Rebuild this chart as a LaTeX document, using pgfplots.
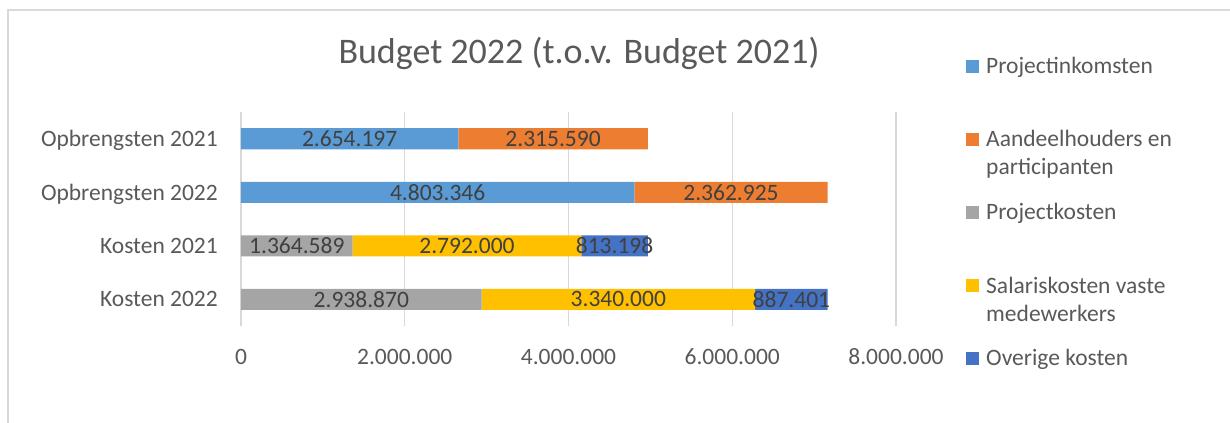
\documentclass[border=0pt]{standalone}
\usepackage{pgfplots}
\pgfplotsset{compat=1.18}
\usepackage{fontspec}
\setmainfont{Carlito}

\definecolor{cProjInk}{HTML}{5B9BD5}
\definecolor{cAandeel}{HTML}{ED7D31}
\definecolor{cProjKost}{HTML}{A5A5A5}
\definecolor{cSalaris}{HTML}{FFC000}
\definecolor{cOverig}{HTML}{4472C4}
\definecolor{txtgray}{HTML}{595959}
\definecolor{lblgray}{HTML}{404040}
\definecolor{gridgray}{HTML}{D9D9D9}

\newcommand{\smallfont}{\fontsize{23.5bp}{28bp}\selectfont}

\begin{document}
\begin{tikzpicture}
  % page size follows the reference (1 px = 1 bp, origin at axis lower left)
  \path[use as bounding box] (-241bp,-97bp) rectangle (989bp,326bp);
  % outer chart border (only top and left visible)
  \draw[gridgray, line width=1.5bp] (-233bp,-97bp) -- (-233bp,316bp) -- (989bp,316bp);

  \begin{axis}[
      at={(0,0)}, anchor=south west,
      scale only axis,
      width=655bp, height=214bp,
      xbar stacked,
      bar width=21bp,
      xmin=0, xmax=8,
      ymin=0.5, ymax=4.5,
      xtick={0,2,4,6,8},
      xticklabels={0,2.000.000,4.000.000,6.000.000,8.000.000},
      ytick={1,2,3,4},
      yticklabels={Kosten 2022,Kosten 2021,Opbrengsten 2022,Opbrengsten 2021},
      axis line style={draw=none},
      major tick length=0pt,
      xmajorgrids,
      grid style={gridgray, line width=1.2bp},
      tick label style={font=\smallfont, text=txtgray, inner sep=0pt},
      xticklabel style={anchor=center, yshift=-31bp},
      yticklabel style={anchor=east, xshift=-23bp, text depth=0pt},
      point meta=explicit symbolic,
      nodes near coords,
      % stacked labels already sit in the middle of each segment
      every node near coord/.append style={
        anchor=center, font=\smallfont, text=lblgray, inner sep=0pt},
    ]
    % values in millions of euro
    \addplot[fill=cProjInk, draw=none] coordinates {
      (0,1) [{}] (0,2) [{}] (4.803346,3) [4.803.346] (2.654197,4) [2.654.197]};
    \addplot[fill=cAandeel, draw=none] coordinates {
      (0,1) [{}] (0,2) [{}] (2.362925,3) [2.362.925] (2.315590,4) [2.315.590]};
    \addplot[fill=cProjKost, draw=none] coordinates {
      (2.938870,1) [2.938.870] (1.364589,2) [1.364.589] (0,3) [{}] (0,4) [{}]};
    \addplot[fill=cSalaris, draw=none] coordinates {
      (3.340000,1) [3.340.000] (2.792000,2) [2.792.000] (0,3) [{}] (0,4) [{}]};
    \addplot[fill=cOverig, draw=none] coordinates {
      (0.887401,1) [887.401] (0.813198,2) [813.198] (0,3) [{}] (0,4) [{}]};
  \end{axis}

  % title
  \node[anchor=base, text=txtgray, font=\fontsize{36bp}{42bp}\selectfont]
    at (338bp,262bp) {Budget 2022 (t.o.v. Budget 2021)};

  % legend
  \begin{scope}[every node/.style={anchor=base west, inner sep=0pt, text=txtgray, font=\smallfont}]
    \fill[cProjInk]  (725bp,252.5bp) rectangle ++(13bp,13bp);
    \node at (745bp,252bp) {Projectinkomsten};
    \fill[cAandeel]  (725bp,179.5bp) rectangle ++(13bp,13bp);
    \node at (745bp,179bp) {Aandeelhouders en};
    \node at (745bp,151bp) {participanten};
    \fill[cProjKost] (725bp,106.5bp) rectangle ++(13bp,13bp);
    \node at (745bp,106bp) {Projectkosten};
    \fill[cSalaris]  (725bp,33.5bp) rectangle ++(13bp,13bp);
    \node at (745bp,33bp) {Salariskosten vaste};
    \node at (745bp,5bp) {medewerkers};
    \fill[cOverig]   (725bp,-38.5bp) rectangle ++(13bp,13bp);
    \node at (745bp,-39bp) {Overige kosten};
  \end{scope}
\end{tikzpicture}
\end{document}
